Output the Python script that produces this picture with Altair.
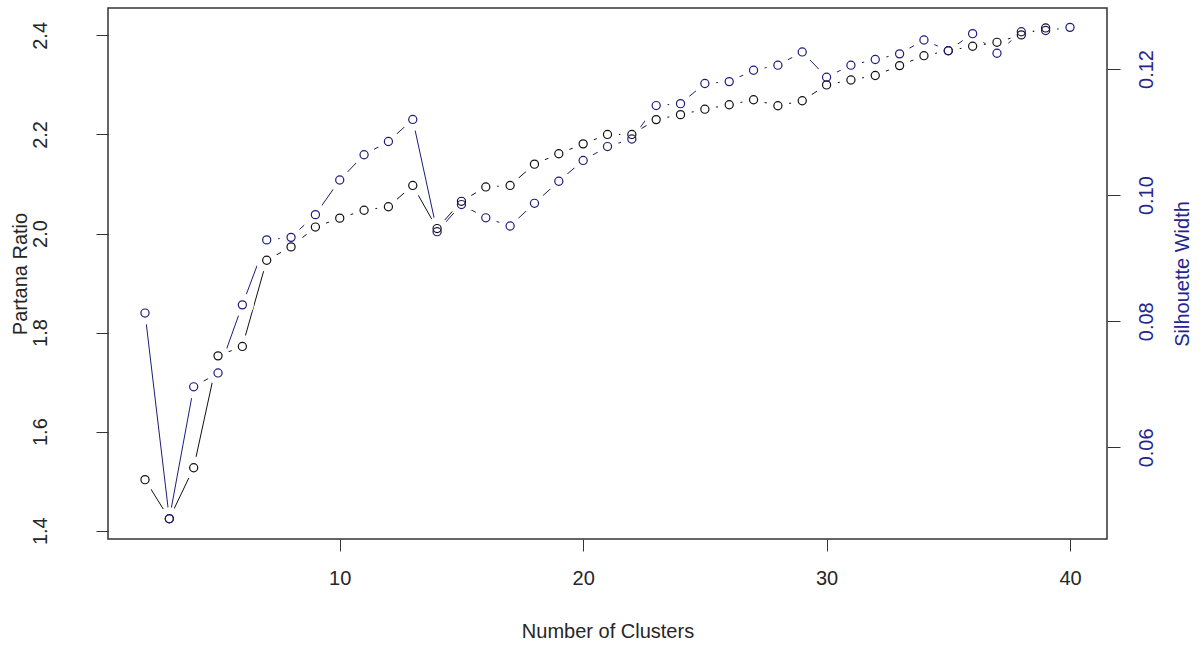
import altair as alt
import pandas as pd

# Partana ratio, evaluated for 2..39 clusters
partana_k = list(range(2, 40))
partana_ratio = [
    1.503, 1.424, 1.527, 1.753, 1.772, 1.946, 1.973, 2.013, 2.031, 2.047,
    2.054, 2.097, 2.010, 2.065, 2.094, 2.097, 2.140, 2.161, 2.181, 2.200,
    2.200, 2.230, 2.240, 2.251, 2.260, 2.270, 2.258, 2.268, 2.300, 2.310,
    2.319, 2.339, 2.359, 2.369, 2.378, 2.386, 2.401, 2.415,
]

# mean silhouette width, evaluated for 2..40 clusters
silhouette_k = list(range(2, 41))
silhouette_width = [
    0.0813, 0.0487, 0.0696, 0.0718, 0.0826, 0.0929, 0.0933, 0.0969, 0.1024, 0.1064,
    0.1085, 0.1120, 0.0942, 0.0985, 0.0964, 0.0951, 0.0987, 0.1022, 0.1055, 0.1077,
    0.1089, 0.1142, 0.1145, 0.1177, 0.1180, 0.1198, 0.1206, 0.1227, 0.1187, 0.1206,
    0.1215, 0.1224, 0.1246, 0.1229, 0.1256, 0.1225, 0.1259, 0.1261, 0.1266,
]

x_ticks = [10, 20, 30, 40]
left_ticks = [1.4, 1.6, 1.8, 2.0, 2.2, 2.4]
right_ticks = [0.06, 0.08, 0.10, 0.12]

partana_df = pd.DataFrame({"k": partana_k, "ratio": partana_ratio})
silhouette_df = pd.DataFrame({"k": silhouette_k, "width": silhouette_width})

FONT = "Liberation Sans"
INK = "#262626"
BLUE = "#25258f"
SERIES_BLUE = "#1c1c7a"
W, H = 999, 531

x_enc = alt.X(
    "k:Q",
    scale=alt.Scale(domain=[0.48, 41.52], nice=False, zero=False),
    axis=alt.Axis(
        values=x_ticks, format="d", domain=False, grid=False,
        tickSize=12, tickColor="#333333", tickWidth=1,
        labelFont=FONT, labelFontSize=20, labelColor=INK,
        labelPadding=27, labelBaseline="middle", labelAlign="center", labelFlush=False,
        title="Number of Clusters", titleFont=FONT, titleFontSize=20,
        titleFontWeight="normal", titleColor=INK,
        titleX=W / 2, titleY=92.5, titleAlign="center", titleBaseline="middle",
    ),
)

left_scale = alt.Scale(domain=[1.3832, 2.4553], nice=False, zero=False)
right_scale = alt.Scale(domain=[0.04547, 0.12967], nice=False, zero=False)

left_axis = alt.Axis(
    orient="left", values=left_ticks, format=".1f", domain=False, grid=False,
    tickSize=12, tickColor="#333333", tickWidth=1,
    labelFont=FONT, labelFontSize=20, labelColor=INK, labelAngle=270,
    labelAlign="center", labelBaseline="middle", labelPadding=56, labelFlush=False,
    title="Partana Ratio", titleFont=FONT, titleFontSize=20, titleFontWeight="normal",
    titleColor=INK, titleAngle=270, titleX=-88, titleY=H / 2,
    titleAlign="center", titleBaseline="middle",
)

right_axis = alt.Axis(
    orient="right", values=right_ticks, format=".2f", domain=False, grid=False,
    tickSize=13, tickColor="#333333", tickWidth=1,
    labelFont=FONT, labelFontSize=20, labelColor=BLUE, labelAngle=270,
    labelAlign="center", labelBaseline="middle", labelPadding=26, labelFlush=False,
    title="Silhouette Width", titleFont=FONT, titleFontSize=20, titleFontWeight="normal",
    titleColor=BLUE, titleAngle=270, titleX=75, titleY=H / 2,
    titleAlign="center", titleBaseline="middle",
)


def series(df, field, scale, axis, color):
    """Points joined by lines, with a white halo around each point so the
    connecting segments stop short of the symbols."""
    base = alt.Chart(df).encode(x=x_enc)
    line = base.mark_line(color=color, strokeWidth=1).encode(
        y=alt.Y(f"{field}:Q", scale=scale, axis=axis)
    )
    halo = base.mark_point(
        shape="circle", filled=True, color="white", opacity=1, size=520
    ).encode(y=alt.Y(f"{field}:Q", scale=scale, axis=None))
    pts = base.mark_point(
        shape="circle", filled=False, color=color, opacity=1, size=66, strokeWidth=1.2
    ).encode(y=alt.Y(f"{field}:Q", scale=scale, axis=None))
    return line, halo, pts


p_line, p_halo, p_pts = series(partana_df, "ratio", left_scale, left_axis, "#111111")
s_line, s_halo, s_pts = series(silhouette_df, "width", right_scale, right_axis, SERIES_BLUE)

chart = (
    alt.layer(p_line, s_line, p_halo, s_halo, p_pts, s_pts)
    .resolve_scale(y="independent")
    .properties(
        width=W,
        height=H,
        autosize="none",
        padding={"left": 108, "top": 8, "right": 96, "bottom": 107},
        background="white",
    )
    .configure_view(stroke="#333333", strokeWidth=1.5)
)

chart.save("out.html", embed_options={"renderer": "svg", "actions": False})
